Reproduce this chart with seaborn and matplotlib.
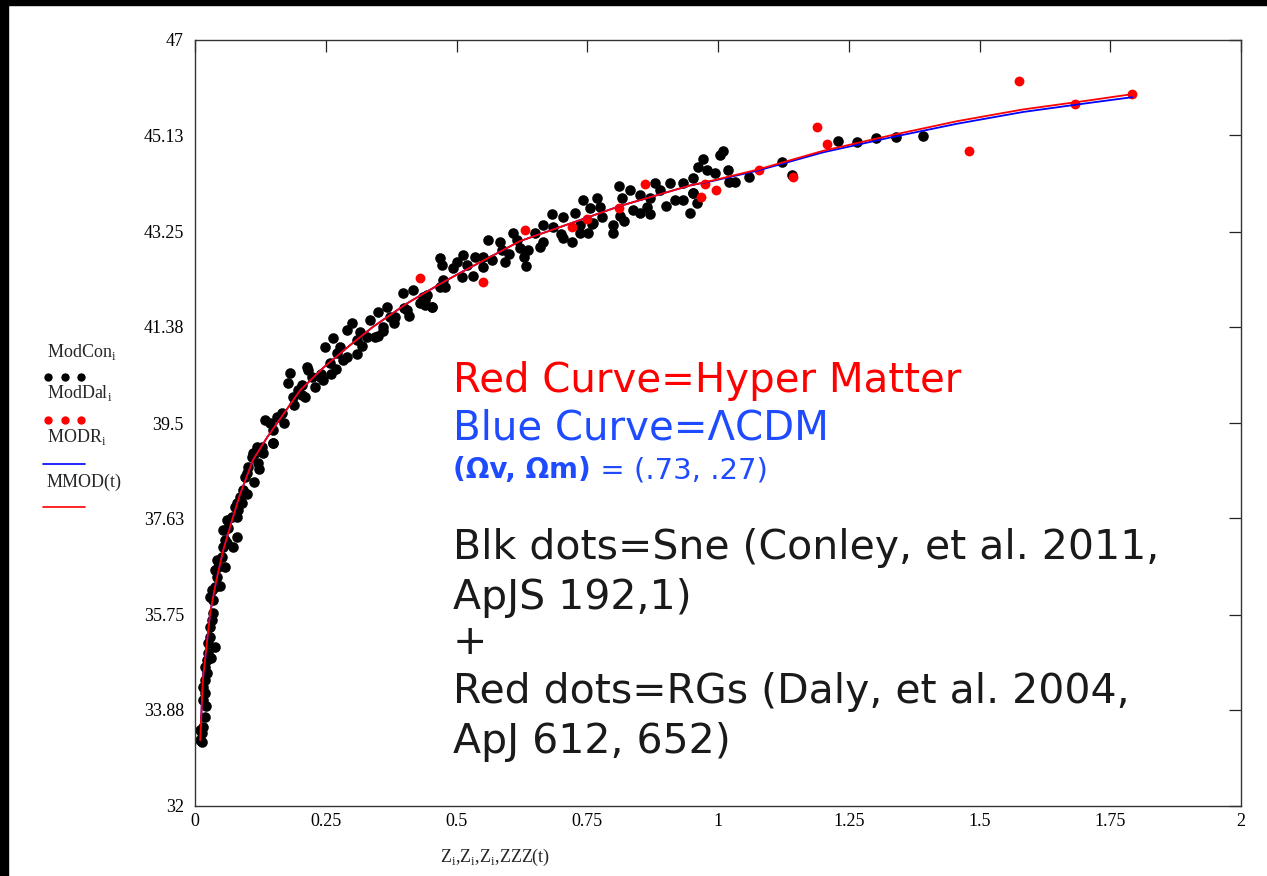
import matplotlib
matplotlib.use("Agg")
import numpy as np
import pandas as pd
import matplotlib.pyplot as plt
from matplotlib.lines import Line2D
from matplotlib.patches import Rectangle
import seaborn as sns

# black dots: SNe (Conley et al. 2011), redshift and distance modulus
sne_z = [0.0096, 0.013, 0.0096, 0.0134, 0.0153, 0.019, 0.0153, 0.019, 0.0153, 0.019,
         0.023, 0.019, 0.023, 0.025, 0.025, 0.0287, 0.0287, 0.0325, 0.034, 0.0287,
         0.034, 0.0325, 0.038, 0.042, 0.038, 0.044, 0.042, 0.052, 0.0535, 0.057,
         0.061, 0.0535, 0.063, 0.061, 0.071, 0.080, 0.076, 0.082, 0.080, 0.090,
         0.086, 0.092, 0.096, 0.101, 0.109, 0.115, 0.120, 0.119, 0.128, 0.130, 0.149,
         0.080, 0.073, 0.057, 0.047, 0.038, 0.030, 0.021, 0.100, 0.113, 0.122,
         0.099, 0.111, 0.120, 0.149, 0.143, 0.157, 0.149, 0.166, 0.178, 0.187,
         0.197, 0.205, 0.210, 0.216, 0.224, 0.239, 0.245, 0.249, 0.258, 0.264,
         0.272, 0.277, 0.283, 0.291, 0.300, 0.310, 0.315, 0.329, 0.335, 0.344,
         0.350, 0.359, 0.367, 0.373, 0.382, 0.398, 0.405, 0.417, 0.430, 0.436,
         0.453, 0.468, 0.182, 0.214, 0.134,
         0.230, 0.260, 0.290, 0.320, 0.350, 0.380, 0.410, 0.190, 0.170, 0.440,
         0.270, 0.310, 0.360, 0.400, 0.240, 0.205,
         0.440, 0.453, 0.444, 0.468, 0.472, 0.474, 0.478, 0.493, 0.501, 0.511,
         0.512, 0.520, 0.532, 0.535, 0.551, 0.560, 0.568, 0.583, 0.587, 0.593,
         0.608, 0.616, 0.621, 0.633, 0.637, 0.650, 0.665, 0.665, 0.683, 0.685,
         0.704, 0.704, 0.727, 0.736, 0.736, 0.742, 0.751, 0.755, 0.761, 0.769,
         0.774, 0.778, 0.799, 0.799, 0.813, 0.816, 0.811, 0.832, 0.837, 0.851,
         0.851, 0.864, 0.870, 0.880, 0.889, 0.918, 0.933, 0.946, 0.952, 0.908, 0.933,
         0.550, 0.600, 0.660, 0.700, 0.760, 0.820, 0.870, 0.900, 0.630, 0.720,
         0.952, 0.952, 0.960, 0.962, 0.971, 0.979, 0.994, 1.004, 1.010, 1.019,
         1.021, 1.033, 1.059, 1.122, 1.141, 1.229, 1.266, 1.302, 1.340, 1.392]
sne_mu = [33.29, 33.25, 33.49, 33.43, 33.55, 33.74, 34.08, 34.21, 34.33, 34.47,
          34.60, 34.72, 34.86, 35.00, 35.19, 35.31, 35.51, 35.64, 35.78, 36.09,
          36.03, 36.23, 36.29, 36.48, 36.62, 36.68, 36.82, 36.88, 37.07, 37.21,
          37.15, 37.40, 37.44, 37.60, 37.66, 37.66, 37.85, 37.80, 37.93, 37.93,
          38.05, 38.19, 38.44, 38.64, 38.83, 38.91, 38.72, 39.03, 39.03, 38.91, 39.11,
          37.27, 37.07, 36.68, 36.30, 35.11, 34.90, 33.95, 38.10, 38.35, 38.60,
          38.52, 38.91, 38.97, 39.11, 39.50, 39.62, 39.36, 39.70, 40.28, 40.01,
          40.15, 40.24, 40.01, 40.54, 40.40, 40.40, 40.34, 40.99, 40.67, 41.16,
          40.87, 40.99, 40.73, 41.32, 41.46, 41.12, 41.28, 41.18, 41.52, 41.18,
          41.67, 41.38, 41.77, 41.57, 41.57, 42.04, 41.71, 42.10, 41.85, 41.97,
          41.77, 42.16, 40.48, 40.60, 39.56,
          40.20, 40.45, 40.80, 41.00, 41.20, 41.45, 41.60, 39.85, 39.50, 41.90,
          40.55, 40.85, 41.30, 41.75, 40.45, 40.05,
          41.81, 41.77, 42.00, 42.73, 42.59, 42.30, 42.16, 42.53, 42.65, 42.36,
          42.79, 42.59, 42.38, 42.75, 42.75, 43.08, 42.69, 43.04, 42.89, 42.65,
          43.22, 43.08, 42.93, 42.57, 42.89, 43.22, 43.04, 43.38, 43.59, 43.34,
          43.53, 43.12, 43.61, 43.38, 43.22, 43.87, 43.22, 43.71, 43.42, 43.91,
          43.73, 43.53, 43.38, 43.22, 43.55, 43.91, 44.14, 44.06, 43.67, 43.61,
          43.96, 43.73, 43.91, 44.20, 44.06, 43.87, 43.87, 43.61, 44.00, 44.20, 44.20,
          42.55, 42.80, 42.95, 43.20, 43.40, 43.45, 43.60, 43.75, 42.75, 43.05,
          44.30, 44.00, 43.81, 44.51, 44.67, 44.45, 44.39, 44.75, 44.83, 44.45,
          44.22, 44.22, 44.32, 44.61, 44.36, 45.02, 45.00, 45.08, 45.10, 45.12]

# red dots: radio galaxies (Daly et al. 2004)
rg_z = [0.430, 0.551, 0.631, 0.721, 0.749, 0.811, 0.860, 0.967, 0.975, 0.996,
        1.078, 1.143, 1.189, 1.208, 1.480, 1.576, 1.683, 1.792]
rg_mu = [42.34, 42.26, 43.28, 43.34, 43.49, 43.71, 44.18, 43.92, 44.18, 44.06,
         44.45, 44.32, 45.30, 44.96, 44.83, 46.20, 45.75, 45.94]

# model curves
curve_z = [0.010, 0.015, 0.029, 0.040, 0.054, 0.071, 0.086, 0.111, 0.138, 0.201,
           0.245, 0.296, 0.340, 0.405, 0.468, 0.507, 0.621, 0.813, 0.946, 0.990,
           1.075, 1.201, 1.329, 1.457, 1.583, 1.711, 1.792]
hyper_mu = [33.29, 34.47, 35.78, 36.38, 37.01, 37.60, 38.10, 38.78, 39.22, 40.14,
            40.58, 41.02, 41.38, 41.84, 42.22, 42.44, 43.06, 43.75, 44.15, 44.25,
            44.46, 44.83, 45.13, 45.41, 45.64, 45.82, 45.94]
lcdm_mu = [33.29, 34.47, 35.78, 36.38, 37.01, 37.60, 38.10, 38.78, 39.22, 40.14,
           40.58, 41.02, 41.38, 41.84, 42.22, 42.44, 43.06, 43.75, 44.15, 44.24,
           44.44, 44.80, 45.09, 45.36, 45.59, 45.77, 45.88]

x_ticks = [0, 0.25, 0.5, 0.75, 1, 1.25, 1.5, 1.75, 2]
x_tick_labels = ["0", "0.25", "0.5", "0.75", "1", "1.25", "1.5", "1.75", "2"]
y_ticks = [32, 33.88, 35.75, 37.63, 39.5, 41.38, 43.25, 45.13, 47]
y_tick_labels = ["32", "33.88", "35.75", "37.63", "39.5", "41.38", "43.25", "45.13", "47"]

W, H = 1267, 876


def px(x, y):
    return x / W, 1 - y / H


sns.set_style("white")
plt.rcParams["font.family"] = ["Liberation Serif", "DejaVu Serif"]
plt.rcParams["mathtext.fontset"] = "custom"
plt.rcParams["mathtext.rm"] = "Liberation Serif"

fig = plt.figure(figsize=(W / 100, H / 100), dpi=100)
fig.patch.set_facecolor("white")
fig.patches.append(Rectangle((0, 1 - 5 / H), 1, 5 / H, transform=fig.transFigure,
                             color="black", zorder=0))
fig.patches.append(Rectangle((0, 0), 8 / W, 1, transform=fig.transFigure,
                             color="black", zorder=0))

ax = fig.add_axes([195 / W, 70 / H, 1046 / W, 766 / H])

sne = pd.DataFrame({"z": sne_z, "mu": sne_mu})
rgs = pd.DataFrame({"z": rg_z, "mu": rg_mu})
sns.scatterplot(data=sne, x="z", y="mu", color="black", s=58, linewidth=0, ax=ax, zorder=2)
sns.scatterplot(data=rgs, x="z", y="mu", color="#ff0000", s=50, linewidth=0, ax=ax, zorder=3)
sns.lineplot(x=curve_z, y=lcdm_mu, color="#0000ff", lw=1.3, sort=False, estimator=None,
             ax=ax, zorder=4)
sns.lineplot(x=curve_z, y=hyper_mu, color="#ff0000", lw=1.3, sort=False, estimator=None,
             ax=ax, zorder=5)

ax.set_xlim(0, 2)
ax.set_ylim(32, 47)
ax.set_xticks(x_ticks)
ax.set_xticklabels(x_tick_labels)
ax.set_yticks(y_ticks)
ax.set_yticklabels(y_tick_labels)
ax.set_xlabel("")
ax.set_ylabel("")
ax.tick_params(direction="in", length=8.6, width=0.9, top=True, right=True,
               labelsize=13, colors="#222222", labelcolor="black")
ax.tick_params(axis="x", pad=5)
ax.tick_params(axis="y", pad=8)
for sp in ax.spines.values():
    sp.set_visible(True)
    sp.set_color("#333333")
    sp.set_linewidth(1.0)

# x axis label (Mathcad style)
fig.text(*px(495, 857), r"Z$_\mathrm{i}$,Z$_\mathrm{i}$,Z$_\mathrm{i}$,ZZZ(t)",
         ha="center", va="center", fontsize=13)

# left-side legend
fig.text(*px(47, 352), r"ModCon$_\mathrm{i}$", ha="left", va="center", fontsize=13)
fig.text(*px(47, 393), r"ModDal$_\mathrm{i}$", ha="left", va="center", fontsize=13)
fig.text(*px(47, 437), r"MODR$_\mathrm{i}$", ha="left", va="center", fontsize=13)
fig.text(*px(47, 482), "MMOD(t)", ha="left", va="center", fontsize=13)
for yy, col in [(377, "black"), (420, "#ff0000")]:
    fig.add_artist(Line2D([48 / W, 65 / W, 81 / W], [1 - yy / H] * 3, ls="none",
                          marker="o", ms=6, mec="none", color=col,
                          transform=fig.transFigure))
for yy, col in [(464, "#0000ff"), (507, "#ff0000")]:
    fig.add_artist(Line2D([43 / W, 85 / W], [1 - yy / H] * 2, lw=1.2, color=col,
                          transform=fig.transFigure))

# annotations
sans = ["DejaVu Sans"]
blue = "#1f4bff"
fig.text(*px(453, 381), "Red Curve=Hyper Matter", color="#ff0000", fontsize=29,
         family=sans, ha="left", va="center")
fig.text(*px(453, 428), "Blue Curve=\u039bCDM", color=blue, fontsize=29,
         family=sans, ha="left", va="center")
t1 = fig.text(*px(453, 470), "(\u03a9v, \u03a9m)", color=blue, fontsize=20,
              family=sans, weight="bold", ha="left", va="center")
ax.annotate(" = (.73, .27)", xy=(1, 0.5), xycoords=t1, color=blue, fontsize=21,
            family=sans, ha="left", va="center")
lines = ["Blk dots=Sne (Conley, et al. 2011,", "ApJS 192,1)", "+",
         "Red dots=RGs (Daly, et al. 2004,", "ApJ 612, 652)"]
for yy, s in zip([548, 598, 643, 692, 742], lines):
    fig.text(*px(453, yy), s, color="#1a1a1a", fontsize=29.5, family=sans,
             ha="left", va="center")

fig.savefig("out.png", dpi=100, facecolor="white")
